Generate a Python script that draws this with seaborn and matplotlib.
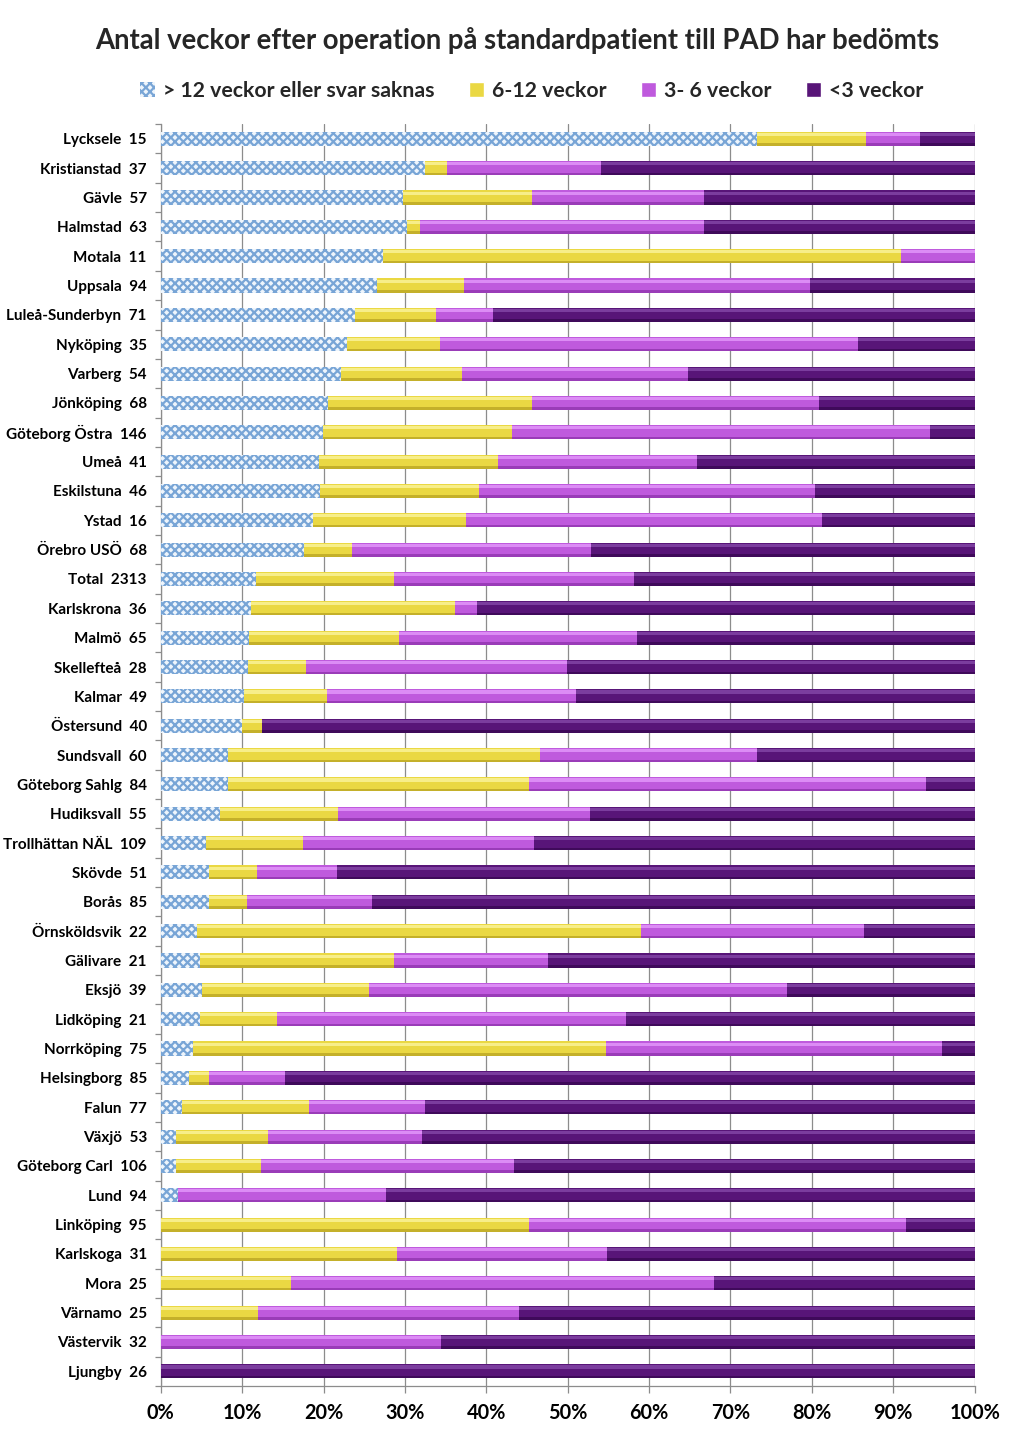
import matplotlib
matplotlib.use("Agg")
import matplotlib.pyplot as plt
import seaborn as sns
import numpy as np
import pandas as pd
from matplotlib.patches import Patch, Rectangle
from matplotlib.ticker import FixedLocator, PercentFormatter

categories = ["Lycksele  15", "Kristianstad  37", "Gävle  57", "Halmstad  63", "Motala  11",
              "Uppsala  94", "Luleå-Sunderbyn  71", "Nyköping  35", "Varberg  54", "Jönköping  68",
              "Göteborg Östra  146", "Umeå  41", "Eskilstuna  46", "Ystad  16", "Örebro USÖ  68",
              "Total  2313", "Karlskrona  36", "Malmö  65", "Skellefteå  28", "Kalmar  49",
              "Östersund  40", "Sundsvall  60", "Göteborg Sahlg  84", "Hudiksvall  55",
              "Trollhättan NÄL  109", "Skövde  51", "Borås  85", "Örnsköldsvik  22", "Gälivare  21",
              "Eksjö  39", "Lidköping  21", "Norrköping  75", "Helsingborg  85", "Falun  77",
              "Växjö  53", "Göteborg Carl  106", "Lund  94", "Linköping  95", "Karlskoga  31",
              "Mora  25", "Värnamo  25", "Västervik  32", "Ljungby  26"]

over12 = [73.3, 32.4, 29.8, 30.2, 27.3, 26.6, 23.9, 22.9, 22.2, 20.6,
          19.9, 19.5, 19.6, 18.75, 17.6, 11.7, 11.1, 10.8, 10.7, 10.2,
          10.0, 8.3, 8.3, 7.3, 5.5, 5.9, 5.9, 4.5, 4.8, 5.1,
          4.8, 4.0, 3.5, 2.6, 1.9, 1.9, 2.1, 0, 0, 0, 0, 0, 0]
w6_12 = [13.3, 2.7, 15.8, 1.6, 63.6, 10.6, 9.9, 11.4, 14.8, 25.0,
         23.3, 22.0, 19.6, 18.75, 5.9, 17.0, 25.0, 18.5, 7.1, 10.2,
         2.5, 38.3, 36.9, 14.5, 11.9, 5.9, 4.7, 54.5, 23.8, 20.5,
         9.5, 50.7, 2.4, 15.6, 11.3, 10.4, 0, 45.3, 29.0, 16.0, 12.0, 0, 0]
w3_6 = [6.7, 18.9, 21.1, 34.9, 9.1, 42.6, 7.0, 51.4, 27.8, 35.3,
        51.4, 24.4, 41.3, 43.75, 29.4, 29.4, 2.8, 29.2, 32.1, 30.6,
        0, 26.7, 48.8, 30.9, 28.4, 9.8, 15.3, 27.3, 19.0, 51.3,
        42.9, 41.3, 9.4, 14.3, 18.9, 31.1, 25.5, 46.3, 25.8, 52.0, 32.0, 34.4, 0]
w_lt3 = [6.7, 45.9, 33.3, 33.3, 0, 20.2, 59.2, 14.3, 35.2, 19.1,
         5.5, 34.1, 19.6, 18.75, 47.1, 41.9, 61.1, 41.5, 50.0, 49.0,
         87.5, 26.7, 6.0, 47.3, 54.1, 78.4, 74.1, 13.6, 52.4, 23.1,
         42.9, 4.0, 84.7, 67.5, 67.9, 56.6, 72.3, 8.4, 45.2, 32.0, 56.0, 65.6, 100.0]

series_names = ["> 12 veckor eller svar saknas", "6-12 veckor", "3- 6 veckor", "<3 veckor"]
x_ticks = [0, 10, 20, 30, 40, 50, 60, 70, 80, 90, 100]
title = "Antal veckor efter operation på standardpatient till PAD har bedömts"

df = pd.DataFrame({"cat": categories, "s1": over12, "s2": w6_12, "s3": w3_6, "s4": w_lt3})
tot = df[["s1", "s2", "s3", "s4"]].sum(axis=1)
for c in ["s1", "s2", "s3", "s4"]:
    df[c] = df[c] / tot * 100
df["c1"] = df["s1"]
df["c2"] = df["c1"] + df["s2"]
df["c3"] = df["c2"] + df["s3"]
df["c4"] = df["c3"] + df["s4"]

sns.set_theme(style="white")
plt.rcParams["font.family"] = ["Lato", "DejaVu Sans"]
plt.rcParams["hatch.linewidth"] = 1.6

fig = plt.figure(figsize=(10.11, 14.43), dpi=100)
ax = fig.add_axes([0.159, 0.0395, 0.805, 0.8745])

col_blue_face = "#eef5fc"
col_blue_hatch = "#78a5d6"
col_yellow = "#ead843"
col_violet = "#bf5add"
col_dark = "#581578"
highlights = {col_dark: "#7b3d9e", col_violet: "#dc8cf5", col_yellow: "#f7ee8a"}
shadows = {col_dark: "#3f0a5a", col_violet: "#9a3cb8", col_yellow: "#c4b02a"}

layers = [("c4", col_dark), ("c3", col_violet), ("c2", col_yellow), ("c1", col_blue_face)]
for col, color in layers:
    sns.barplot(data=df, x=col, y="cat", orient="h", color=color, width=0.48,
                saturation=1, ax=ax, edgecolor="none", linewidth=0, zorder=3)

n = len(categories)
patches = list(ax.patches)
# 3D-like shading: highlight strip on top, shadow at bottom (derived from each bar)
for li, (col, color) in enumerate(layers[:3]):
    for p in patches[li * n:(li + 1) * n]:
        x0, y0 = p.get_x(), p.get_y()
        w, h = p.get_width(), p.get_height()
        if w <= 0:
            continue
        ax.add_patch(Rectangle((x0, y0 + 0.08 * h), w, 0.22 * h, facecolor=highlights[color],
                               edgecolor="none", zorder=3.5))
        ax.add_patch(Rectangle((x0, y0 + 0.82 * h), w, 0.18 * h, facecolor=shadows[color],
                               edgecolor="none", zorder=3.5))
# hatch the first series
for p in patches[3 * n:4 * n]:
    p.set_hatch("xxxx")
    p.set_edgecolor(col_blue_hatch)
    p.set_linewidth(0)
    p.set_zorder(4)

ax.set_xlim(0, 100)
ax.set_ylim(n - 0.5, -0.5)
ax.set_xlabel("")
ax.set_ylabel("")
ax.xaxis.set_major_locator(FixedLocator(x_ticks))
ax.xaxis.set_major_formatter(PercentFormatter(decimals=0))
ax.grid(axis="x", color="#8c8c8c", linewidth=0.9, zorder=0)
ax.set_axisbelow(True)
for s in ["top", "right"]:
    ax.spines[s].set_visible(False)
for s in ["left", "bottom"]:
    ax.spines[s].set_visible(True)
    ax.spines[s].set_color("#8c8c8c")
    ax.spines[s].set_linewidth(0.9)

ax.tick_params(axis="x", which="major", length=5, width=0.9, color="#8c8c8c",
               labelsize=14.3, pad=7, bottom=True)
ax.tick_params(axis="y", which="major", length=0, labelsize=11, pad=10)
ax.yaxis.set_minor_locator(FixedLocator(np.arange(-0.5, n, 1.0)))
ax.tick_params(axis="y", which="minor", length=4, width=0.9, color="#8c8c8c", left=True)
for lbl in ax.get_xticklabels() + ax.get_yticklabels():
    lbl.set_fontweight("bold")
    lbl.set_color("black")

fig.text(0.5117, 0.972, title, ha="center", va="center", fontsize=19.8, fontweight="bold")

handles = [Patch(facecolor=col_blue_face, edgecolor=col_blue_hatch, hatch="xxxx", linewidth=0),
           Patch(facecolor=col_yellow), Patch(facecolor=col_violet), Patch(facecolor=col_dark)]
fig.legend(handles, series_names, loc="center", bbox_to_anchor=(0.526, 0.937), ncol=4,
           frameon=False, prop={"weight": "bold", "size": 15.3}, handlelength=0.7,
           handleheight=0.7, handletextpad=0.4, columnspacing=1.6)

fig.savefig("out.png", dpi=100)
